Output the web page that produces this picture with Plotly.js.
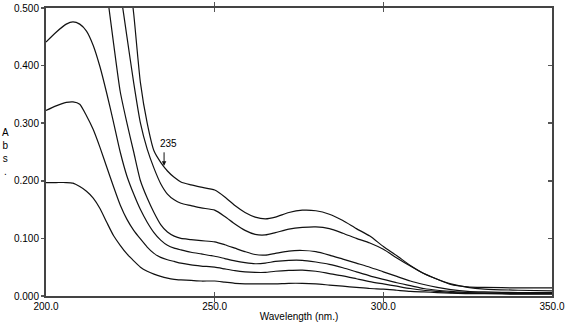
<!DOCTYPE html>
<html>
<head>
<meta charset="utf-8">
<script src="https://cdn.plot.ly/plotly-3.0.1.min.js"></script>
<style>html,body{margin:0;padding:0;background:#fff;}#chart{width:567px;height:328px;}</style>
</head>
<body>
<div id="chart"></div>
<script>
var wavelength = [200,203,206,208,210,212,214,216,218,220,222,224,226,228,230,232,234,236,238,240,243,246,250,253,256,259,262,265,268,272,276,280,284,288,292,296,300,304,308,312,316,320,325,330,340,350];

var curve1 = [1.10,1.10,1.10,1.10,1.08,1.04,0.98,0.90,0.83,0.75,0.67,0.59,0.49,0.37,0.30,0.252,0.232,0.217,0.206,0.198,0.193,0.189,0.184,0.172,0.157,0.145,0.137,0.134,0.137,0.145,0.149,0.148,0.142,0.131,0.117,0.104,0.086,0.070,0.053,0.039,0.029,0.020,0.016,0.015,0.014,0.014];
var curve2 = [1.00,1.00,1.00,1.00,0.98,0.93,0.85,0.75,0.68,0.60,0.53,0.45,0.37,0.30,0.255,0.222,0.195,0.177,0.167,0.161,0.157,0.153,0.149,0.138,0.125,0.114,0.107,0.106,0.110,0.116,0.119,0.120,0.117,0.109,0.100,0.092,0.081,0.066,0.052,0.039,0.029,0.021,0.015,0.012,0.010,0.009];
var curve3 = [0.85,0.86,0.87,0.87,0.85,0.80,0.72,0.62,0.53,0.44,0.355,0.30,0.25,0.20,0.170,0.145,0.124,0.111,0.104,0.100,0.098,0.096,0.094,0.089,0.083,0.077,0.072,0.071,0.074,0.078,0.079,0.077,0.071,0.064,0.057,0.050,0.042,0.034,0.026,0.020,0.015,0.011,0.008,0.007,0.006,0.006];
var curve4 = [0.441,0.458,0.472,0.476,0.472,0.460,0.435,0.398,0.352,0.302,0.250,0.208,0.177,0.150,0.128,0.110,0.097,0.088,0.083,0.080,0.076,0.073,0.069,0.065,0.061,0.058,0.056,0.057,0.060,0.062,0.062,0.059,0.055,0.049,0.042,0.035,0.029,0.023,0.018,0.013,0.010,0.008,0.006,0.005,0.005,0.005];
var curve5 = [0.322,0.330,0.336,0.337,0.333,0.313,0.289,0.258,0.224,0.190,0.158,0.133,0.114,0.099,0.085,0.074,0.067,0.063,0.060,0.057,0.054,0.052,0.050,0.047,0.044,0.042,0.041,0.041,0.043,0.0445,0.045,0.043,0.039,0.035,0.030,0.025,0.021,0.017,0.013,0.010,0.008,0.006,0.005,0.005,0.004,0.004];
var curve6 = [0.197,0.197,0.197,0.196,0.190,0.182,0.170,0.152,0.128,0.105,0.088,0.073,0.061,0.050,0.043,0.038,0.034,0.031,0.029,0.028,0.027,0.026,0.026,0.024,0.022,0.021,0.021,0.021,0.021,0.022,0.022,0.021,0.019,0.017,0.015,0.013,0.012,0.010,0.008,0.007,0.006,0.005,0.004,0.004,0.003,0.003];

var xTicks = [200,250,300,350];
var xTickText = ['200.0','250.0','300.0','350.0'];
var yTicks = [0,0.1,0.2,0.3,0.4,0.5];
var yTickText = ['0.000','0.100','0.200','0.300','0.400','0.500'];
var markerWavelength = 235;
var markerAbs = 0.226;
var markerLabel = '235';

var series = [curve1, curve2, curve3, curve4, curve5, curve6];
var traces = series.map(function(s, i){
  return {x: wavelength, y: s, type: 'scatter', mode: 'lines',
          yaxis: i === 5 ? 'y2' : 'y',
          line: {color: '#111', width: 1.2, shape: 'spline', smoothing: 0.6},
          hoverinfo: 'skip', showlegend: false};
});

var fnt = {family: 'Liberation Sans, Arial, sans-serif', size: 10, color: '#000'};
var layout = {
  width: 567, height: 328,
  margin: {l: 46, r: 15, t: 8, b: 32, pad: 0},
  paper_bgcolor: '#fff', plot_bgcolor: '#fff',
  showlegend: false,
  xaxis: {range: [200, 350], tickvals: xTicks, ticktext: xTickText,
          ticks: 'inside', ticklen: 4, tickwidth: 1.5, tickcolor: '#555',
          showline: true, linecolor: '#444', linewidth: 2, mirror: 'allticks',
          showgrid: false, zeroline: false, tickfont: fnt,
          title: {text: 'Wavelength (nm.)', font: fnt, standoff: 2}},
  yaxis: {range: [0, 0.5], tickvals: yTicks, ticktext: yTickText,
          ticks: 'outside', ticklen: 3, tickwidth: 1.5, tickcolor: '#555',
          showline: true, linecolor: '#444', linewidth: 2, mirror: true,
          showgrid: false, zeroline: false, tickfont: fnt},
  yaxis2: {range: [0, 0.5], overlaying: 'y', side: 'right', tickvals: yTicks,
           ticks: 'inside', ticklen: 4, tickwidth: 1.5, tickcolor: '#555',
           showticklabels: false, showline: false, showgrid: false, zeroline: false},
  annotations: [
    {x: markerWavelength, y: markerAbs, xref: 'x', yref: 'y', text: '',
     showarrow: true, ax: 0, ay: -15, arrowhead: 2, arrowsize: 0.9, arrowwidth: 1, arrowcolor: '#111'},
    {x: markerWavelength, y: markerAbs, xref: 'x', yref: 'y', text: markerLabel,
     showarrow: false, xshift: 4, yshift: 22, font: fnt},
    {x: -0.081, y: 0.5, xref: 'paper', yref: 'paper', text: 'A<br>b<br>s<br>.',
     showarrow: false, font: fnt, xanchor: 'center', yanchor: 'middle'}
  ]
};

Plotly.newPlot('chart', traces, layout, {staticPlot: true, displayModeBar: false});
</script>
</body>
</html>
